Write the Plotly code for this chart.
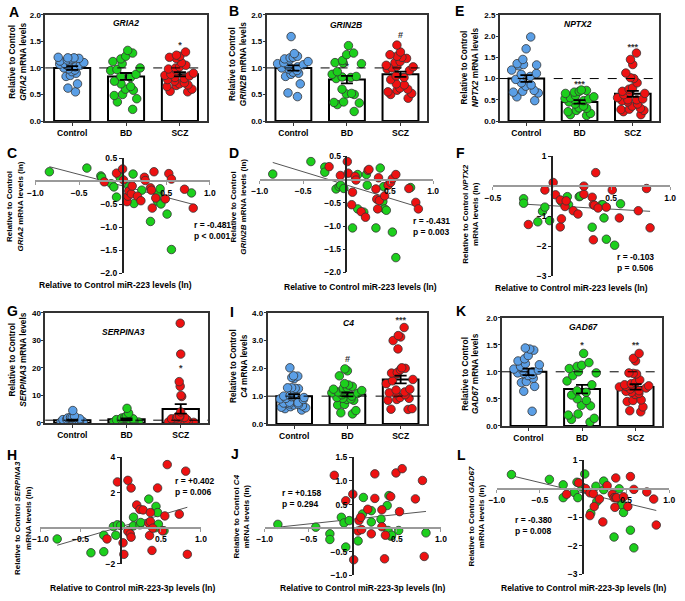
import plotly.graph_objects as go

W, H = 685, 601
FONT = "Arial, Liberation Sans, sans-serif"

groups = ["Control", "BD", "SCZ"]
C_BLUE, C_GREEN, C_RED = "#5b9fe6", "#1ccf1c", "#ee1111"
REF = 1.0

# ---------------- bar panel data ----------------
gria2_ctrl = [1.13,1.15,1.17,1.19,1.19,1.20,1.18,1.13,1.10,1.08,1.07,1.05,1.03,1.02,1.00,0.98,0.96,0.93,0.90,0.84,0.86,0.70,0.62,0.55]
gria2_bd = [1.33,1.28,1.22,1.17,1.12,1.08,1.00,0.97,0.95,0.88,0.84,0.82,0.75,0.70,0.65,0.60,0.58,0.50,0.48,0.42,0.36,0.22]
gria2_scz = [1.30,1.24,1.22,1.20,1.18,1.10,1.05,1.02,1.00,0.98,0.96,0.90,0.88,0.86,0.85,0.82,0.80,0.78,0.75,0.72,0.70,0.68,0.67,0.65,0.60,0.55,0.56]
gria2_mean = [1.00, 0.84, 0.88]
gria2_sem = [0.035, 0.065, 0.04]
gria2_sig = ["", "", "*"]
gria2_sig_y = [0, 0, 1.42]

grin2b_ctrl = [1.59,1.27,1.22,1.20,1.19,1.17,1.15,1.12,1.10,1.08,1.06,1.04,1.02,1.00,0.98,0.95,0.92,0.90,0.88,0.84,0.70,0.53,0.46]
grin2b_bd = [1.42,1.28,1.25,1.14,1.10,1.09,1.08,0.93,0.88,0.84,0.83,0.82,0.80,0.60,0.52,0.51,0.50,0.36,0.35,0.34,0.31,0.18]
grin2b_scz = [1.43,1.30,1.25,1.22,1.20,1.18,1.12,1.10,1.05,1.03,1.02,1.00,0.98,0.95,0.85,0.82,0.78,0.70,0.68,0.62,0.60,0.58,0.55,0.52,0.50,0.43]
grin2b_mean = [1.00, 0.78, 0.88]
grin2b_sem = [0.05, 0.07, 0.05]
grin2b_sig = ["", "*", "#"]
grin2b_sig_y = [0, 1.03, 1.60]

nptx2_ctrl = [1.98,1.70,1.45,1.35,1.33,1.32,1.30,1.20,1.12,1.10,1.05,0.98,0.90,0.85,0.82,0.72,0.70,0.68,0.66,0.57,0.48]
nptx2_bd = [0.73,0.72,0.70,0.68,0.65,0.60,0.57,0.55,0.53,0.52,0.50,0.48,0.45,0.40,0.35,0.31,0.30,0.25,0.22,0.18,0.15,0.13]
nptx2_scz = [1.60,1.45,1.33,1.13,1.02,1.00,0.90,0.78,0.75,0.70,0.68,0.65,0.62,0.55,0.52,0.50,0.50,0.48,0.45,0.40,0.35,0.30,0.28,0.27,0.25,0.22,0.15]
nptx2_mean = [1.00, 0.45, 0.64]
nptx2_sem = [0.08, 0.04, 0.07]
nptx2_sig = ["", "***", "***"]
nptx2_sig_y = [0, 0.86, 1.73]

serp_ctrl = [4.5,2.5,2.0,1.8,1.5,1.3,1.2,1.0,1.0,0.9,0.8,0.8,0.7,0.6,0.5,0.5,0.4,0.4,0.3,0.3,2.0,1.5]
serp_bd = [5.3,3.5,2.5,2.0,1.8,1.6,1.5,1.3,1.2,1.0,1.0,0.9,0.8,0.7,0.6,0.5,0.5,0.4,0.3,0.3,0.2,0.2]
serp_scz = [36.2,25.0,15.0,13.3,10.0,9.6,4.0,2.5,2.3,2.2,2.0,1.8,1.5,1.2,1.0,0.9,0.8,0.7,0.5,0.5,0.4,0.3,0.3,0.2,0.2,0.1]
serp_mean = [1.0, 1.3, 5.1]
serp_sem = [0.2, 0.3, 1.7]
serp_sig = ["", "", "*"]
serp_sig_y = [0, 0, 19.7]

c4_ctrl = [2.02,1.73,1.72,1.67,1.63,1.30,1.30,1.28,1.27,1.05,1.02,1.00,0.98,0.95,0.92,0.90,0.88,0.78,0.76,0.75,0.72,0.70,0.68,0.65,0.62,0.60,0.58,0.55,0.50]
c4_bd = [1.98,1.91,1.73,1.45,1.40,1.35,1.30,1.28,1.25,1.22,1.20,1.15,1.12,1.10,1.05,1.00,0.95,0.92,0.90,0.88,0.85,0.70,0.68,0.48,0.40,0.36]
c4_scz = [3.47,3.18,3.13,3.00,2.70,2.02,2.00,1.95,1.85,1.83,1.80,1.60,1.55,1.45,1.25,1.22,1.15,1.12,1.10,1.05,0.95,0.92,0.88,0.85,0.55,0.53,0.52]
c4_mean = [1.00, 1.06, 1.60]
c4_sem = [0.07, 0.07, 0.14]
c4_sig = ["", "#", "***"]
c4_sig_y = [0, 2.31, 3.73]

gad_ctrl = [1.44,1.42,1.40,1.30,1.24,1.20,1.15,1.13,1.10,1.05,1.03,1.02,1.00,0.98,0.97,0.95,0.93,0.88,0.82,0.80,0.73,0.64,0.27]
gad_bd = [1.34,1.17,1.12,1.10,1.06,1.00,0.98,0.93,0.83,0.76,0.65,0.62,0.57,0.50,0.47,0.38,0.37,0.22,0.20,0.14,0.12,0.07]
gad_scz = [1.34,1.25,1.20,0.98,0.97,0.96,0.85,0.80,0.78,0.76,0.75,0.74,0.73,0.72,0.70,0.68,0.65,0.64,0.62,0.60,0.58,0.48,0.47,0.45,0.35,0.28,0.26]
gad_mean = [1.00, 0.68, 0.72]
gad_sem = [0.06, 0.08, 0.05]
gad_sig = ["", "*", "**"]
gad_sig_y = [0, 1.48, 1.48]

# ---------------- scatter panel data (ln) ----------------
c_bd_x = [-0.84,-0.41,-0.25,-0.24,-0.13,-0.10,-0.07,-0.03,0.07,0.12,0.13,0.22,0.32,0.41,0.43,0.40,0.44,0.51,0.56,0.79]
c_bd_y = [0.21,0.29,0.12,0.09,-0.05,-0.12,-0.34,0.09,-0.11,0.16,-0.48,-0.19,-0.87,-0.27,-0.16,-0.43,-0.49,-0.71,-1.48,-0.25]
c_scz_x = [-0.21,-0.07,0.00,0.01,0.05,0.06,0.07,0.10,0.11,0.17,0.21,0.25,0.26,0.32,0.33,0.36,0.34,0.38,0.49,0.53,0.56,0.71,0.81]
c_scz_y = [-0.01,0.18,0.27,0.03,-0.44,-0.32,-0.21,-0.27,-0.10,-0.32,-0.42,0.09,0.02,-0.14,-0.19,0.21,-0.58,-0.36,-0.38,0.17,0.05,-0.17,-0.58]

d_bd_x = [-0.85,-0.41,-0.25,-0.25,-0.12,-0.085,-0.066,-0.03,0.07,0.13,0.13,0.20,0.23,0.24,0.34,0.39,0.42,0.43,0.44,0.46,0.53,0.57,0.74]
d_bd_y = [0.12,0.39,0.27,0.16,-0.20,-0.15,-0.12,-0.19,-1.04,0.11,-0.63,-0.70,0.11,-0.12,-1.04,0.25,-0.47,-0.15,-0.63,-0.66,-1.13,-1.68,-0.17]
d_scz_x = [-0.20,-0.07,0.01,0.02,0.06,0.07,0.10,0.11,0.17,0.22,0.25,0.26,0.34,0.35,0.36,0.37,0.38,0.44,0.48,0.51,0.53,0.57,0.72,0.80,0.83]
d_scz_y = [0.28,0.09,0.39,0.14,-0.54,-0.27,0.07,-0.01,-0.69,-0.81,0.20,0.22,-0.20,-0.42,-0.63,0.04,-0.45,-0.35,-0.12,-0.06,0.02,0.11,-0.19,-0.49,-0.63]

f_bd_x = [-0.24,-0.24,-0.12,-0.08,-0.06,-0.02,0.08,0.13,0.14,0.23,0.24,0.34,0.42,0.43,0.44,0.46,0.53,0.58]
f_bd_y = [-0.41,-0.56,-1.18,-0.83,-0.69,-1.14,-0.50,-0.34,-0.61,-0.34,-0.32,-1.36,-0.61,-0.61,-1.05,-1.76,-1.96,-0.58]
f_scz_x = [-0.20,-0.06,0.01,0.03,0.07,0.07,0.08,0.11,0.12,0.18,0.22,0.27,0.27,0.34,0.35,0.35,0.36,0.37,0.39,0.46,0.51,0.57,0.73,0.80,0.83]
f_scz_y = [-1.27,-0.12,0.13,-0.28,-0.45,-1.35,-1.08,-0.67,-0.48,-0.81,-0.92,-0.26,0.01,-0.36,-0.61,-1.78,-0.63,0.46,-0.72,-0.69,-0.12,-1.05,-0.81,-0.07,-1.38]

h_bd_x = [-0.79,-0.37,-0.21,-0.21,-0.09,-0.06,-0.04,0.00,0.10,0.16,0.16,0.24,0.25,0.35,0.43,0.44,0.46,0.47,0.54]
h_bd_y = [-0.61,-1.39,-0.40,-1.33,0.09,-0.40,0.19,0.15,-0.13,0.13,0.62,0.19,0.32,1.64,0.02,1.23,0.88,0.22,-0.15]
h_scz_x = [-0.17,-0.04,0.03,0.04,0.09,0.09,0.12,0.13,0.13,0.20,0.24,0.28,0.35,0.36,0.37,0.37,0.39,0.40,0.46,0.52,0.55,0.58,0.73,0.81,0.83]
h_scz_y = [-0.61,2.61,-0.83,-1.48,2.70,-0.18,-0.33,-0.51,2.27,1.31,1.06,1.03,0.28,-0.42,0.88,0.38,-1.26,0.00,2.27,-0.15,0.69,3.59,0.79,3.22,-1.48]

j_bd_x = [-0.85,-0.42,-0.26,-0.26,-0.13,-0.10,-0.08,-0.04,0.06,0.11,0.12,0.21,0.21,0.32,0.39,0.41,0.40,0.43,0.44,0.52,0.83]
j_bd_y = [0.08,0.02,-0.12,-0.24,0.23,0.11,-0.40,0.16,-0.27,0.30,0.65,0.37,0.13,0.19,0.48,0.69,-0.05,-0.17,-0.15,-0.05,-0.10]
j_scz_x = [-0.21,-0.08,0.00,0.01,0.06,0.07,0.09,0.10,0.17,0.21,0.25,0.25,0.33,0.33,0.36,0.37,0.43,0.49,0.53,0.56,0.71,0.79,0.81]
j_scz_y = [1.12,0.58,0.72,-0.67,-0.06,0.16,0.23,-0.03,0.40,-0.12,1.15,0.63,0.39,0.03,-0.65,-0.15,0.67,1.17,0.35,1.26,0.62,1.01,-0.60]

l_bd_x = [-0.83,-0.39,-0.23,-0.23,-0.10,-0.07,-0.06,-0.01,0.02,0.09,0.15,0.16,0.24,0.24,0.36,0.42,0.44,0.45,0.47,0.55,0.59]
l_bd_y = [0.50,0.33,0.14,-0.31,-0.13,0.23,-0.31,0.06,0.52,-0.85,0.09,-0.45,0.27,-0.03,-1.69,0.00,-0.43,-0.57,-0.83,-1.45,-2.07]
l_scz_x = [-0.19,-0.05,0.03,0.08,0.08,0.12,0.13,0.19,0.23,0.28,0.34,0.36,0.38,0.38,0.37,0.39,0.47,0.52,0.55,0.59,0.74,0.82,0.85]
l_scz_y = [-0.19,0.21,0.01,-0.94,-0.14,-0.17,-0.62,-0.36,-1.16,0.11,-0.19,-0.31,0.38,-0.31,-0.65,-0.31,-0.28,-0.62,0.43,-0.02,-0.11,-0.36,-1.27]

# regression lines: [intercept, slope]
fit_c = [-0.097, -0.497]
fit_d = [-0.115, -0.571]
fit_f = [-0.644, -0.224]
fit_h = [0.080, 1.325]
fit_j = [0.189, 0.199]
fit_l = [-0.143, -0.726]

stats_c = "r = -0.481<br>p < 0.001"
stats_d = "r = -0.431<br>p = 0.003"
stats_f = "r = -0.103<br>p = 0.506"
stats_h = "r = +0.402<br>p = 0.006"
stats_j = "r = +0.158<br>p = 0.294"
stats_l = "r = -0.380<br>p = 0.008"

# ---------------- helpers ----------------
def px(x):
    return x / W

def py(y):
    return 1 - y / H

def axid(i):
    s = "" if i == 1 else str(i)
    return "x" + s, "y" + s, "xaxis" + s, "yaxis" + s

fig = go.Figure()
layout = {}
annotations = []
shapes = []

def bold_font(size, color="black"):
    return dict(family=FONT, size=size, color=color, weight=700)

def add_text(x, y, text, size=8.5, angle=0, xanchor="center", yanchor="middle", align="center"):
    annotations.append(dict(x=px(x), y=py(y), xref="paper", yref="paper", text=text,
                            showarrow=False, font=bold_font(size), textangle=angle,
                            xanchor=xanchor, yanchor=yanchor, align=align))

bar_panels = [
    ("A", (38, 203, 10, 118), 2.0, [0, 0.5, 1.0, 1.5, 2.0], ".1f", (gria2_ctrl, gria2_bd, gria2_scz), gria2_mean, gria2_sem, gria2_sig, gria2_sig_y, "GRIA2", (120, 18), (6, 7), (9, 58)),
    ("B", (264, 428, 10, 118), 2.0, [0, 0.5, 1.0, 1.5, 2.0], ".1f", (grin2b_ctrl, grin2b_bd, grin2b_scz), grin2b_mean, grin2b_sem, grin2b_sig, grin2b_sig_y, "GRIN2B", (345, 20), (231, 6), (234, 60)),
    ("E", (502, 665, 10, 118), 2.5, [0, 0.5, 1.0, 1.5, 2.0, 2.5], ".1f", (nptx2_ctrl, nptx2_bd, nptx2_scz), nptx2_mean, nptx2_sem, nptx2_sig, nptx2_sig_y, "NPTX2", (582, 19), (461, 6), (472, 63)),
    ("G", (38, 204, 313, 425), 40, [0, 10, 20, 30, 40], "d", (serp_ctrl, serp_bd, serp_scz), serp_mean, serp_sem, serp_sig, serp_sig_y, "SERPINA3", (118, 333), (5, 311), (9, 360)),
    ("I", (265, 428, 313, 426), 4.0, [0, 1, 2, 3, 4], ".1f", (c4_ctrl, c4_bd, c4_scz), c4_mean, c4_sem, c4_sig, c4_sig_y, "C4", (348, 323), (229, 312), (236, 367)),
    ("K", (504, 668, 318, 428), 2.0, [0, 0.5, 1.0, 1.5, 2.0], ".1f", (gad_ctrl, gad_bd, gad_scz), gad_mean, gad_sem, gad_sig, gad_sig_y, "GAD67", (588, 327), (462, 311), (472, 375)),
]

ax_i = 0
for (letter, box, ymax, yticks, yfmt, data, mean, sem, sig, sig_y, gene, gpos, lpos, tpos) in bar_panels:
    ax_i += 1
    xa, ya, xk, yk = axid(ax_i)
    x0, x1, yt, yb = box
    layout[xk] = dict(domain=[px(x0), px(x1)], range=[-0.5, 2.5], anchor=ya, type="category",
                      showline=True, linecolor="#333", linewidth=1.5, mirror=True,
                      ticks="outside", ticklen=3, tickcolor="#333",
                      tickfont=bold_font(8.5), showgrid=False, zeroline=False, fixedrange=True)
    layout[yk] = dict(domain=[py(yb), py(yt)], range=[0, ymax], anchor=xa,
                      showline=True, linecolor="#333", linewidth=1.5, mirror=True,
                      ticks="outside", ticklen=2, tickcolor="#333", tickvals=yticks, tickformat=yfmt,
                      ticklabelstandoff=-1,
                      tickfont=bold_font(8), showgrid=False, zeroline=False, fixedrange=True)
    fig.add_trace(go.Bar(x=groups, y=mean, width=0.67, xaxis=xa, yaxis=ya,
                         marker=dict(color="white", line=dict(color="black", width=2)),
                         showlegend=False, hoverinfo="skip"))
    for g, vals, col in zip(groups, data, (C_BLUE, C_GREEN, C_RED)):
        fig.add_trace(go.Box(x=[g] * len(vals), y=vals, xaxis=xa, yaxis=ya,
                             boxpoints="all", jitter=1.0, pointpos=0, width=0.62,
                             fillcolor="rgba(0,0,0,0)", line=dict(width=0, color="rgba(0,0,0,0)"),
                             marker=dict(color=col, size=8.5, line=dict(color="#333", width=0.8)),
                             showlegend=False))
    fig.add_trace(go.Scatter(x=groups, y=mean, mode="markers", xaxis=xa, yaxis=ya,
                             marker=dict(color="rgba(0,0,0,0)", size=1),
                             error_y=dict(type="data", array=sem, color="black", thickness=1.8, width=6),
                             showlegend=False, hoverinfo="skip"))
    fig.add_trace(go.Scatter(x=groups, y=sig_y, mode="text", text=sig, xaxis=xa, yaxis=ya,
                             textfont=bold_font(9, "#333"), textposition="middle center",
                             showlegend=False, hoverinfo="skip"))
    shapes.append(dict(type="line", xref=f"{xa} domain", yref=ya, x0=0, x1=1, y0=REF, y1=REF,
                       line=dict(color="black", width=1, dash="dash")))
    add_text(gpos[0], gpos[1], f"<i>{gene}</i>", size=8.5)
    add_text(lpos[0], lpos[1], letter, size=14)
    add_text(tpos[0], tpos[1], f"Relative to Control<br><i>{gene}</i> mRNA levels", size=8.3, angle=-90)

scatter_panels = [
    ("C", (-1, 1, 28, 206), (-2, 0.5, 273, 156), [-1.0, -0.5, 0.5, 1.0], [0.5, -0.5, -1.0, -1.5, -2.0], ".1f", ".1f",
     (c_bd_x, c_bd_y), (c_scz_x, c_scz_y), fit_c, stats_c, (188, 229), (4, 150),
     "Relative to Control<br><i>GRIA2</i> mRNA levels (ln)", (7, 205), "Relative to Control miR-223 levels (ln)", (110, 285)),
    ("D", (-1, 1, 257, 434), (-2, 0.5, 272, 154), [-1.0, -0.5, 0.5, 1.0], [0.5, -0.5, -1.0, -1.5, -2.0], ".1f", ".1f",
     (d_bd_x, d_bd_y), (d_scz_x, d_scz_y), fit_d, stats_d, (411, 225), (231, 151),
     "Relative to Control<br><i>GRIN2B</i> mRNA levels (ln)", (235, 205), "Relative to Control miR-223 levels (ln)", (360, 287)),
    ("F", (-0.5, 1.0, 495, 676), (-3, 1, 276, 154), [-0.5, 0.5, 1.0], [1, -1, -2, -3], ".1f", "d",
     (f_bd_x, f_bd_y), (f_scz_x, f_scz_y), fit_f, stats_f, (620, 262), (462, 151),
     "Relative to Control <i>NPTX2</i><br>mRNA levels (ln)", (472, 212), "Relative to Control miR-223 levels (ln)", (575, 288)),
    ("H", (-1, 1, 33, 197), (-2, 4, 568, 460), [-1.0, -0.5, 0.5, 1.0], [4, 2, -2], ".1f", "d",
     (h_bd_x, h_bd_y), (h_scz_x, h_scz_y), fit_h, stats_h, (168, 490), (4, 458),
     "Relative to Control <i>SERPINA3</i><br>mRNA levels (ln)", (15, 522), "Relative to Control miR-223-3p levels (ln)", (127, 593)),
    ("J", (-1, 1, 262, 442), (-1, 1.5, 580, 460), [-1.0, -0.5, 0.5, 1.0], [1.5, 1.0, 0.5, -0.5, -1.0], ".1f", ".1f",
     (j_bd_x, j_bd_y), (j_scz_x, j_scz_y), fit_j, stats_j, (278, 502), (232, 457),
     "Relative to Control <i>C4</i><br>mRNA levels (ln)", (238, 520), "Relative to Control miR-223-3p levels (ln)", (362, 593)),
    ("L", (-1, 1, 499, 675), (-3, 1, 579, 463), [-1.0, -0.5, 0.5, 1.0], [1, -1, -2, -3], ".1f", "d",
     (l_bd_x, l_bd_y), (l_scz_x, l_scz_y), fit_l, stats_l, (516, 529), (463, 458),
     "Relative to Control <i>GAD67</i><br>mRNA levels (ln)", (478, 520), "Relative to Control miR-223-3p levels (ln)", (588, 593)),
]

for (letter, xr, yr, xt, yt_, xfmt, yfmt, bd, scz, fit, stats, spos, lpos, ytitle, ytpos, xtitle, xtpos) in scatter_panels:
    ax_i += 1
    xa, ya, xk, yk = axid(ax_i)
    xmin, xmax, xp0, xp1 = xr
    ymin, ymax, yp0, yp1 = yr
    zero_y = yp0 + (0 - ymin) / (ymax - ymin) * (yp1 - yp0)
    zero_x = xp0 + (0 - xmin) / (xmax - xmin) * (xp1 - xp0)
    layout[xk] = dict(domain=[px(xp0), px(xp1)], range=[xmin, xmax], anchor="free", position=py(zero_y),
                      showline=True, linecolor="#9a9a9a", linewidth=2, ticks="outside", ticklen=3,
                      tickcolor="#9a9a9a", tickvals=xt, tickformat=xfmt, tickfont=bold_font(8.5),
                      showgrid=False, zeroline=False, fixedrange=True)
    layout[yk] = dict(domain=[py(yp0), py(yp1)], range=[ymin, ymax], anchor="free", position=px(zero_x),
                      showline=True, linecolor="#222", linewidth=1.5, ticks="outside", ticklen=3,
                      tickcolor="#222", tickvals=yt_, tickformat=yfmt, tickfont=bold_font(8.5),
                      showgrid=False, zeroline=False, fixedrange=True)
    allx = list(bd[0]) + list(scz[0])
    lx = [min(allx), max(allx)]
    ly = [fit[0] + fit[1] * v for v in lx]
    fig.add_trace(go.Scatter(x=lx, y=ly, mode="lines", xaxis=xa, yaxis=ya,
                             line=dict(color="#555", width=1), showlegend=False, hoverinfo="skip"))
    fig.add_trace(go.Scatter(x=bd[0], y=bd[1], mode="markers", xaxis=xa, yaxis=ya,
                             marker=dict(color=C_GREEN, size=8.5, line=dict(color="#333", width=0.8)),
                             showlegend=False))
    fig.add_trace(go.Scatter(x=scz[0], y=scz[1], mode="markers", xaxis=xa, yaxis=ya,
                             marker=dict(color=C_RED, size=8.5, line=dict(color="#333", width=0.8)),
                             showlegend=False))
    add_text(spos[0], spos[1], stats, size=8.5, xanchor="left", align="left")
    add_text(lpos[0], lpos[1], letter, size=14)
    add_text(ytpos[0], ytpos[1], ytitle, size=8, angle=-90)
    add_text(xtpos[0], xtpos[1], xtitle, size=8.5)

fig.update_layout(width=W, height=H, margin=dict(l=0, r=0, t=0, b=0),
                  paper_bgcolor="white", plot_bgcolor="rgba(0,0,0,0)",
                  barmode="overlay", boxmode="overlay", showlegend=False,
                  font=dict(family=FONT, size=8.5, color="black"),
                  annotations=annotations, shapes=shapes, **layout)

fig.write_html("out.html", config={"displayModeBar": False},
               post_script="document.body.style.margin='0px';document.body.style.overflow='hidden';")
